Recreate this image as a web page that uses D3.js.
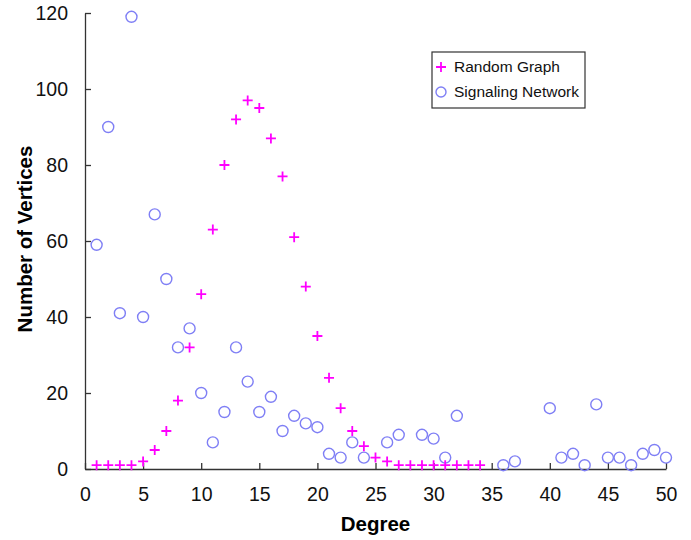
<!DOCTYPE html>
<html><head><meta charset="utf-8">
<script src="https://cdn.jsdelivr.net/npm/d3@7"></script>
<style>body{margin:0;background:#fff}</style>
</head><body>
<svg id="c" width="691" height="540"></svg>
<script>
const randomDegrees = [1,2,3,4,5,6,7,8,9,10,11,12,13,14,15,16,17,18,19,20,21,22,23,24,25,26,27,28,29,30,31,32,33,34];
const randomValues  = [1,1,1,1,2,5,10,18,32,46,63,80,92,97,95,87,77,61,48,35,24,16,10,6,3,2,1,1,1,1,1,1,1,1];
const signalDegrees = [1,2,3,4,5,6,7,8,9,10,11,12,13,14,15,16,17,18,19,20,21,22,23,24,26,27,29,30,31,32,36,37,40,41,42,43,44,45,46,47,48,49,50];
const signalValues  = [59,90,41,119,40,67,50,32,37,20,7,15,32,23,15,19,10,14,12,11,4,3,7,3,7,9,9,8,3,14,1,2,16,3,4,1,17,3,3,1,4,5,3];
const xTicks = [0,5,10,15,20,25,30,35,40,45,50];
const yTicks = [0,20,40,60,80,100,120];
const seriesNames = ["Random Graph","Signaling Network"];

const svg = d3.select("#c");
const x = d3.scaleLinear().domain([0,50]).range([85,666]);
const y = d3.scaleLinear().domain([0,120]).range([469,13]);
const font = "'Liberation Sans', Arial, sans-serif";

const xAxis = svg.append("g").attr("transform",`translate(0,${y(0)})`)
  .call(d3.axisBottom(x).tickValues(xTicks).tickSizeInner(-6).tickSizeOuter(0).tickPadding(18));
const yAxis = svg.append("g").attr("transform",`translate(${x(0)},0)`)
  .call(d3.axisLeft(y).tickValues(yTicks).tickSizeInner(-6).tickSizeOuter(0).tickPadding(17));
[xAxis,yAxis].forEach(g=>{
  g.selectAll("path,line").attr("stroke","#333").attr("stroke-width",1.3);
  g.selectAll("text").attr("font-family",font).attr("font-size",19.5).attr("fill","#111");
});
yAxis.selectAll("text").attr("dy","0.35em");

// signaling network circles
svg.append("g").selectAll("circle").data(signalDegrees.map((d,i)=>[d,signalValues[i]])).join("circle")
  .attr("cx",d=>x(d[0])).attr("cy",d=>y(d[1])).attr("r",5.5)
  .attr("fill","none").attr("stroke","#7f7ff5").attr("stroke-width",1.4);

// random graph plus markers
const plus = (cx,cy,s)=>`M${cx-s},${cy}H${cx+s}M${cx},${cy-s}V${cy+s}`;
svg.append("g").selectAll("path").data(randomDegrees.map((d,i)=>[d,randomValues[i]])).join("path")
  .attr("d",d=>plus(x(d[0]),y(d[1]),5))
  .attr("stroke","#ff00ff").attr("stroke-width",1.8).attr("fill","none");

// axis titles
svg.append("text").attr("x",(x(0)+x(50))/2).attr("y",531).attr("text-anchor","middle")
  .attr("font-family",font).attr("font-weight","bold").attr("font-size",20.5).text("Degree");
svg.append("text").attr("transform","translate(31.5,239) rotate(-90)").attr("text-anchor","middle")
  .attr("font-family",font).attr("font-weight","bold").attr("font-size",20.5).text("Number of Vertices");

// legend
const lg = svg.append("g");
lg.append("rect").attr("x",432).attr("y",52).attr("width",153).attr("height",56)
  .attr("fill","#fff").attr("stroke","#333").attr("stroke-width",1.2);
lg.append("path").attr("d",plus(441,67,5)).attr("stroke","#ff00ff").attr("stroke-width",1.8);
lg.append("circle").attr("cx",441).attr("cy",92).attr("r",5).attr("fill","none").attr("stroke","#7f7ff5").attr("stroke-width",1.4);
lg.selectAll("text").data(seriesNames).join("text")
  .attr("x",454).attr("y",(d,i)=>67+i*25).attr("dy","0.35em")
  .attr("font-family",font).attr("font-size",15.5).attr("fill","#111").text(d=>d);
</script>
</body></html>
